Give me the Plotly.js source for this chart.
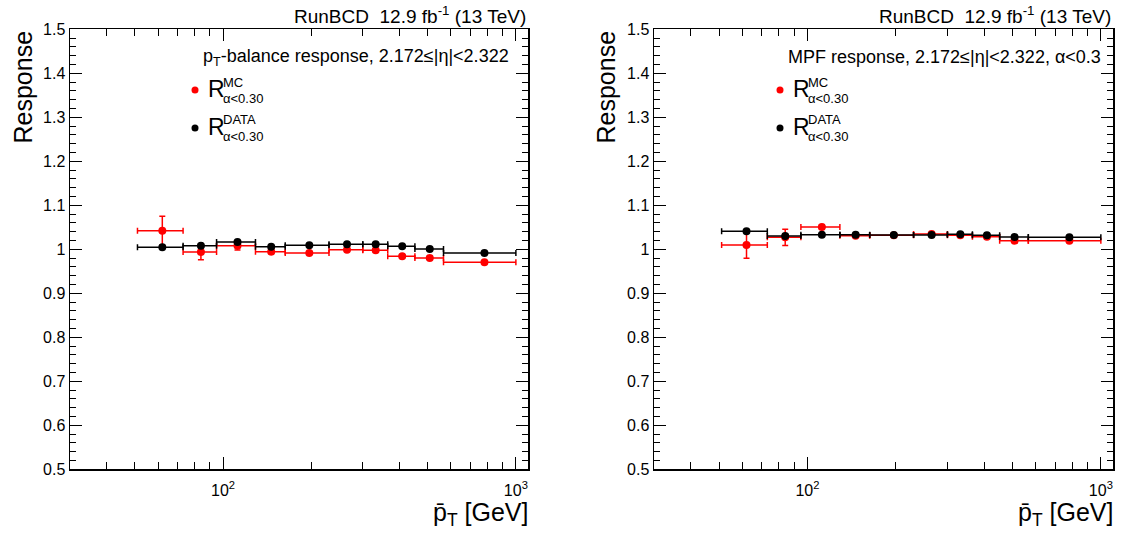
<!DOCTYPE html>
<html>
<head>
<meta charset="utf-8">
<script src="https://cdn.plot.ly/plotly-3.0.1.min.js"></script>
<style>html,body{margin:0;padding:0;background:#fff;}#chart{width:1125px;height:536px;}</style>
</head>
<body>
<div id="chart"></div>
<script>
// ---- data ----
const binEdges = [51, 73, 95, 129, 163, 230, 300, 365, 452, 566, 1000];
const ptCenters = [62, 84, 112, 146, 197, 265, 332, 409, 508, 781];

const balData    = [1.0045, 1.0083, 1.0166, 1.0060, 1.0091, 1.0113, 1.0113, 1.0068, 1.0008, 0.9917];
const balDataErr = [0.002, 0.002, 0.002, 0.002, 0.002, 0.002, 0.002, 0.002, 0.002, 0.002];
const balMC      = [1.0423, 0.9940, 1.0083, 0.9947, 0.9917, 0.9992, 0.9977, 0.9842, 0.9804, 0.9706];
const balMCErr   = [0.033, 0.018, 0.010, 0.003, 0.003, 0.003, 0.003, 0.003, 0.003, 0.003];

const mpfData    = [1.0408, 1.0302, 1.0332, 1.0332, 1.0325, 1.0325, 1.0340, 1.0317, 1.0279, 1.0272];
const mpfDataErr = [0.003, 0.004, 0.002, 0.002, 0.002, 0.002, 0.002, 0.002, 0.002, 0.002];
const mpfMC      = [1.0098, 1.0272, 1.0506, 1.0309, 1.0317, 1.0347, 1.0317, 1.0287, 1.0196, 1.0196];
const mpfMCErr   = [0.030, 0.0185, 0.005, 0.002, 0.002, 0.002, 0.002, 0.002, 0.002, 0.002];

const xTickVals = [100, 1000];
const xTickText = ['10<sup>2</sup>', '10<sup>3</sup>'];
const xMinorVals = [40, 50, 60, 70, 80, 90, 200, 300, 400, 500, 600, 700, 800, 900];

const panelTitles = ['p<sub>T</sub>-balance response, 2.172≤|η|<2.322', 'MPF response, 2.172≤|η|<2.322, α<0.3'];
const lumiText = 'RunBCD  12.9 fb<sup>-1</sup> (13 TeV)';
const yTitle = 'Response';
const xTitle = 'p̄<sub>T</sub> [GeV]';
const legendMC = {main: 'R', sup: 'MC', sub: 'α<0.30'};
const legendDATA = {main: 'R', sup: 'DATA', sub: 'α<0.30'};

// ---- helpers ----
const W = 1125, H = 536;
const px = x => x / W;
const py = y => 1 - y / H;
const errPlus = ptCenters.map((c, i) => binEdges[i + 1] - c);
const errMinus = ptCenters.map((c, i) => c - binEdges[i]);
const FONT = 'Liberation Sans, Arial, Helvetica, sans-serif';

function series(y, err, color, xa, ya) {
  return {
    type: 'scatter', mode: 'markers', x: ptCenters, y: y, xaxis: xa, yaxis: ya,
    marker: {color: color, size: 8, symbol: 'circle'},
    error_x: {type: 'data', symmetric: false, array: errPlus, arrayminus: errMinus, color: color, thickness: 1.5, width: 3},
    error_y: {type: 'data', array: err, color: color, thickness: 1.5, width: 3},
    showlegend: false, hoverinfo: 'skip'
  };
}

const data = [
  series(balMC, balMCErr, '#ff0000', 'x', 'y'),
  series(balData, balDataErr, '#000000', 'x', 'y'),
  series(mpfMC, mpfMCErr, '#ff0000', 'x2', 'y2'),
  series(mpfData, mpfDataErr, '#000000', 'x2', 'y2')
];

function xaxis(domain, anchor) {
  return {
    type: 'log', range: [Math.log10(30), Math.log10(1100)], domain: domain, anchor: anchor,
    showline: true, linecolor: '#000', linewidth: 1.5, mirror: 'allticks',
    ticks: 'inside', ticklen: 12, tickwidth: 1, tickcolor: '#000',
    tickmode: 'array', tickvals: xTickVals, ticktext: xTickText,
    ticklabelstandoff: 6,
    tickfont: {family: FONT, size: 16, color: '#000'},
    minor: {tickmode: 'array', tickvals: xMinorVals, ticks: 'inside', ticklen: 7, tickwidth: 1, tickcolor: '#000', showgrid: false},
    showgrid: false, zeroline: false, fixedrange: true
  };
}
function yaxis(domain, anchor) {
  return {
    range: [0.5, 1.5], domain: domain, anchor: anchor,
    showline: true, linecolor: '#000', linewidth: 1.5, mirror: 'allticks',
    ticks: 'inside', ticklen: 12, tickwidth: 1, tickcolor: '#000',
    tick0: 0.5, dtick: 0.1,
    tickfont: {family: FONT, size: 16, color: '#000'},
    minor: {dtick: 0.02, ticks: 'inside', ticklen: 6, tickwidth: 1, tickcolor: '#000', showgrid: false},
    showgrid: false, zeroline: false, fixedrange: true
  };
}

const yDom = [py(469.3), py(29.3)];
const panels = [
  {x0: 70, x1: 528, dotX: 195, rX: 206, ssX: 221, yTitleX: 23},
  {x0: 654, x1: 1113, dotX: 780, rX: 791, ssX: 806, yTitleX: 606}
];

const annotations = [];
const shapes = [];
panels.forEach((p, i) => {
  annotations.push({xref: 'paper', yref: 'paper', x: px(p.x1), y: py(15), xanchor: 'right', yanchor: 'middle',
    text: lumiText, showarrow: false, font: {family: FONT, size: 19, color: '#000'}});
  annotations.push({xref: 'paper', yref: 'paper', x: px(i === 0 ? 511 : 1103), y: py(57), xanchor: 'right', yanchor: 'middle',
    text: panelTitles[i], showarrow: false, font: {family: FONT, size: 18, color: '#000'}});
  annotations.push({xref: 'paper', yref: 'paper', x: px(p.yTitleX), y: py(29), xanchor: 'center', yanchor: 'top',
    text: yTitle, textangle: -90, showarrow: false, font: {family: FONT, size: 25, color: '#000'}});
  annotations.push({xref: 'paper', yref: 'paper', x: px(p.x1 + 2), y: py(514), xanchor: 'right', yanchor: 'middle',
    text: xTitle, showarrow: false, font: {family: FONT, size: 25, color: '#000'}});
  [[legendMC, '#ff0000', 90], [legendDATA, '#000000', 128]].forEach(([lg, col, yy]) => {
    shapes.push({type: 'circle', xref: 'paper', yref: 'paper', x0: px(p.dotX - 3.5), x1: px(p.dotX + 3.5), y0: py(yy + 3.5), y1: py(yy - 3.5),
      fillcolor: col, line: {color: col, width: 0}});
    annotations.push({xref: 'paper', yref: 'paper', x: px(p.rX), y: py(yy - 1), xanchor: 'left', yanchor: 'middle',
      text: lg.main, showarrow: false, font: {family: FONT, size: 23, color: '#000'}});
    annotations.push({xref: 'paper', yref: 'paper', x: px(p.ssX), y: py(yy - 8), xanchor: 'left', yanchor: 'middle',
      text: lg.sup, showarrow: false, font: {family: FONT, size: 13, color: '#000'}});
    annotations.push({xref: 'paper', yref: 'paper', x: px(p.ssX), y: py(yy + 8.5), xanchor: 'left', yanchor: 'middle',
      text: lg.sub, showarrow: false, font: {family: FONT, size: 13, color: '#000'}});
  });
});

const layout = {
  width: W, height: H, margin: {l: 0, r: 0, t: 0, b: 0},
  paper_bgcolor: '#fff', plot_bgcolor: '#fff', showlegend: false,
  font: {family: FONT, color: '#000'},
  xaxis: xaxis([px(70), px(528)], 'y'),
  yaxis: yaxis(yDom, 'x'),
  xaxis2: xaxis([px(654), px(1113)], 'y2'),
  yaxis2: yaxis(yDom, 'x2'),
  annotations: annotations, shapes: shapes
};

Plotly.newPlot('chart', data, layout, {staticPlot: true, displayModeBar: false});
</script>
</body>
</html>
